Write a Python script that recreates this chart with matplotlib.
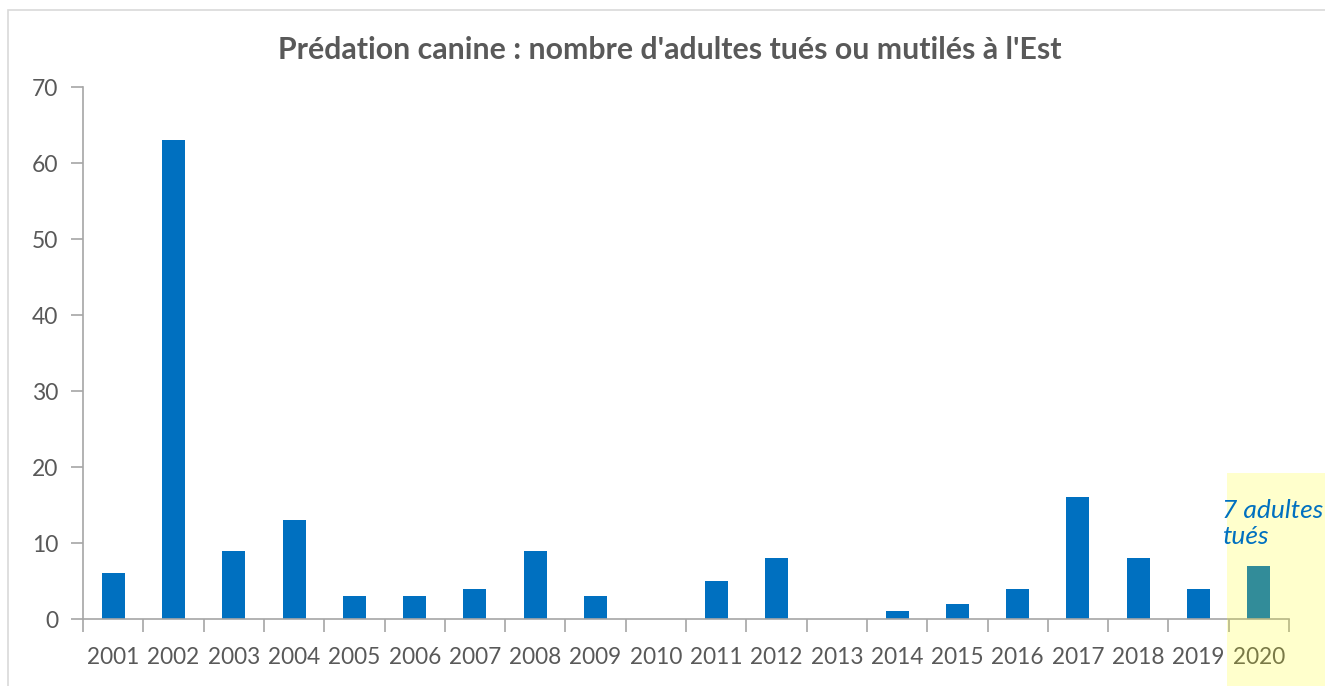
import numpy as np
import matplotlib.pyplot as plt
from matplotlib.patches import Rectangle
from matplotlib.ticker import FixedLocator

plt.rcParams['font.family'] = ['Lato', 'DejaVu Sans']

years = ['2001', '2002', '2003', '2004', '2005', '2006', '2007', '2008', '2009', '2010',
         '2011', '2012', '2013', '2014', '2015', '2016', '2017', '2018', '2019', '2020']
adultes = [6, 63, 9, 13, 3, 3, 4, 9, 3, 0, 5, 8, 0, 1, 2, 4, 16, 8, 4, 7]
note = '7 adultes\ntués'

W, H = 1325, 686
fig = plt.figure(figsize=(W / 100, H / 100), dpi=100)
fig.patch.set_facecolor('white')

# cadre gris clair du graphique
fig.patches.append(Rectangle((8 / W, -0.05), 1.1, (H - 10) / H + 0.05, transform=fig.transFigure,
                             fill=False, edgecolor='#D9D9D9', lw=1.2, zorder=0))

ax = fig.add_axes([83 / W, (H - 619) / H, (1289 - 83) / W, (619 - 87) / H])
x = np.arange(len(years))
ax.bar(x, adultes, width=0.38, color='#0070C0', zorder=2)

ax.set_xlim(-0.5, len(years) - 0.5)
ax.set_ylim(0, 70)
ax.set_yticks(np.arange(0, 71, 10))
ax.set_xticks(x)
ax.set_xticklabels(years)
ax.xaxis.set_minor_locator(FixedLocator(np.arange(-0.5, len(years), 1)))
ax.tick_params(axis='x', which='major', length=0, pad=20, labelsize=16.3, labelcolor='#595959')
ax.tick_params(axis='x', which='minor', length=9, width=1.2, color='#A6A6A6', direction='out')
ax.tick_params(axis='y', length=9, width=1.2, color='#A6A6A6', pad=9, labelsize=16.5, labelcolor='#595959')

for s in ['top', 'right']:
    ax.spines[s].set_visible(False)
for s in ['left', 'bottom']:
    ax.spines[s].set_color('#A6A6A6')
    ax.spines[s].set_linewidth(1.2)

fig.text(670 / W, 1 - 50 / H, "Prédation canine : nombre d'adultes tués ou mutilés à l'Est",
         ha='center', va='center', fontsize=21.8, fontweight='bold', color='#595959')

# surlignage jaune de 2020
fig.patches.append(Rectangle((1227 / W, 0), 0.2, (H - 473) / H, transform=fig.transFigure,
                             facecolor='#FFFF00', alpha=0.2, edgecolor='none', zorder=10))

fig.text(1222 / W, 1 - 499 / H, note, ha='left', va='top', fontsize=19, style='italic',
         color='#0070C0', linespacing=1.15, zorder=11)

fig.savefig('out.png', dpi=100)
